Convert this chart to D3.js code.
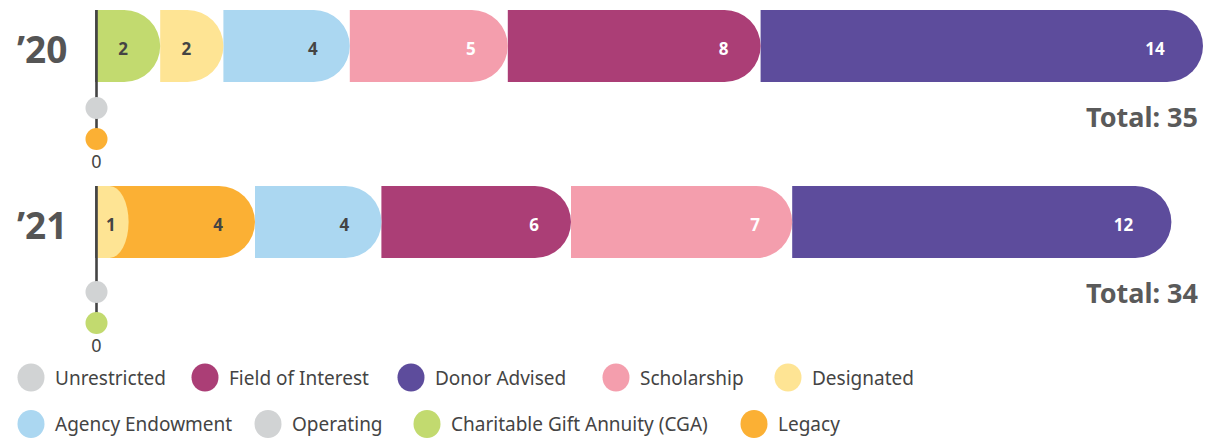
<!DOCTYPE html>
<html>
<head>
<meta charset="utf-8">
<script src="https://cdn.jsdelivr.net/npm/d3@7"></script>
<style>
  html, body { margin: 0; padding: 0; background: #fff; }
  svg { display: block; font-family: "Noto Sans", "Open Sans", sans-serif; }
</style>
</head>
<body>
<svg id="chart" width="1206" height="438"></svg>
<script>
// ---------------- data ----------------
const years = ["’20", "’21"];
const categories = ["Unrestricted", "Field of Interest", "Donor Advised", "Scholarship", "Designated",
  "Agency Endowment", "Operating", "Charitable Gift Annuity (CGA)", "Legacy"];
const categoryColors = ["#D1D3D4", "#AB3E76", "#5D4C9C", "#F49EAD", "#FEE494",
  "#ABD7F1", "#D1D3D4", "#C2DA6F", "#FBB034"];

const segments20 = ["Charitable Gift Annuity (CGA)", "Designated", "Agency Endowment", "Scholarship", "Field of Interest", "Donor Advised"];
const values20 = [2, 2, 4, 5, 8, 14];
const zeros20 = ["Unrestricted", "Legacy"];

const segments21 = ["Designated", "Legacy", "Agency Endowment", "Field of Interest", "Scholarship", "Donor Advised"];
const values21 = [1, 4, 4, 6, 7, 12];
const zeros21 = ["Operating", "Charitable Gift Annuity (CGA)"];

const rows = [
  { year: years[0], segs: segments20, vals: values20, zeros: zeros20 },
  { year: years[1], segs: segments21, vals: values21, zeros: zeros21 }
];
const whiteLabelCats = ["Scholarship", "Field of Interest", "Donor Advised"];

// ---------------- layout ----------------
const legendLayout = { rowY: [377.5, 424], rowX: [[31, 205, 411, 616, 788], [31, 268, 427, 754]] };

// ---------------- drawing ----------------
const svg = d3.select("#chart");
const color = d3.scaleOrdinal().domain(categories).range(categoryColors);

const x = d3.scaleLinear().domain([0, 35]).range([97, 1203]);
const barTop = d3.scalePoint().domain(years).range([10, 186]);
const zeroTop = d3.scalePoint().domain(years).range([108, 292]);
const barH = 72, R = barH / 2;

function segPath(x0, x1, y0, rx) {
  const y1 = y0 + barH, cy = y0 + R;
  return `M${x0},${y0}H${x1 - rx}A${rx},${R} 0 0 1 ${x1},${cy}A${rx},${R} 0 0 1 ${x1 - rx},${y1}H${x0}Z`;
}

rows.forEach(row => {
  const y0 = barTop(row.year);
  let cum = 0;
  const segs = row.segs.map((c, i) => {
    const v = row.vals[i];
    const s = { cat: c, v, start: cum, end: cum + v };
    cum += v;
    return s;
  });
  const total = cum;
  segs.forEach(s => {
    s.x0 = x(s.start); s.x1 = x(s.end); s.w = s.x1 - s.x0;
    s.rx = Math.min(R, s.w * 0.6);
    s.drawX0 = s.x0;
  });
  segs.forEach((s, i) => {
    if (i > 0 && segs[i - 1].w < R) s.drawX0 = segs[i - 1].x1 - segs[i - 1].rx;
  });

  const g = svg.append("g");

  const zy = row.zeros.map((c, i) => zeroTop(row.year) + i * 31);
  g.append("line")
    .attr("x1", x(0) - 0.5).attr("x2", x(0) - 0.5)
    .attr("y1", y0).attr("y2", zy[zy.length - 1])
    .attr("stroke", "#444").attr("stroke-width", 2.6);

  g.selectAll("path.seg").data(segs.slice().reverse()).join("path")
    .attr("class", "seg")
    .attr("d", s => segPath(s.drawX0, s.x1, y0, s.rx))
    .attr("fill", s => color(s.cat));

  g.append("line")
    .attr("x1", x(0) - 0.5).attr("x2", x(0) - 0.5)
    .attr("y1", y0).attr("y2", y0 + barH)
    .attr("stroke", "#444").attr("stroke-width", 2.6);

  g.selectAll("circle.zero").data(row.zeros).join("circle")
    .attr("class", "zero")
    .attr("cx", x(0) - 0.5).attr("cy", (c, i) => zy[i]).attr("r", 11)
    .attr("fill", c => color(c));
  g.append("text")
    .attr("x", x(0) - 0.5).attr("y", zy[zy.length - 1] + 29)
    .attr("text-anchor", "middle").attr("font-size", 18).attr("fill", "#444")
    .text("0");

  g.selectAll("text.val").data(segs).join("text")
    .attr("class", "val")
    .attr("x", s => {
      const len = String(s.v).length;
      return s.w < R ? s.x0 + s.w / 2 - 2 : s.x1 - 37 - (len - 1) * 11;
    })
    .attr("y", y0 + R + 9)
    .attr("text-anchor", "middle")
    .attr("font-size", 17).attr("font-weight", 700)
    .attr("fill", s => whiteLabelCats.includes(s.cat) ? "#fff" : "#444")
    .text(s => s.v);

  g.append("text")
    .attr("x", 17).attr("y", y0 + 53)
    .attr("font-size", 37).attr("font-weight", 700).attr("fill", "#555")
    .text(row.year);

  g.append("text")
    .attr("x", 1198).attr("y", y0 + 117)
    .attr("text-anchor", "end")
    .attr("font-size", 27).attr("font-weight", 700).attr("fill", "#5a5a5a")
    .text("Total: " + total);
});

// legend
const legend = svg.append("g");
let k = 0;
legendLayout.rowX.forEach((xs, r) => {
  xs.forEach(cx => {
    const c = categories[k++];
    const item = legend.append("g");
    item.append("ellipse")
      .attr("cx", cx).attr("cy", legendLayout.rowY[r]).attr("rx", 13.5).attr("ry", 14)
      .attr("fill", color(c));
    item.append("text")
      .attr("x", cx + 24).attr("y", legendLayout.rowY[r] + 7)
      .attr("font-size", 19).attr("fill", "#444")
      .text(c);
  });
});
</script>
</body>
</html>
